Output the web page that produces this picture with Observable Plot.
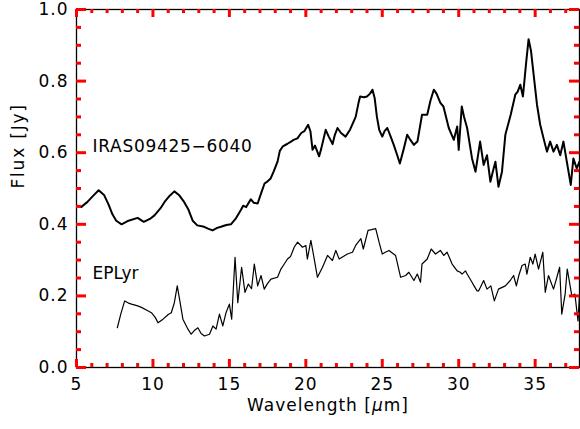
<!DOCTYPE html>
<html><head><meta charset="utf-8">
<script src="https://cdn.jsdelivr.net/npm/d3@7"></script>
<script src="https://cdn.jsdelivr.net/npm/@observablehq/plot@0.6"></script>
<style>body{margin:0;background:#fff}</style>
</head><body><div id="chart"></div>
<script>
// IRAS09425-6040 spectrum (wavelength in micron, flux in Jy)
const irasWl = [5.05,5.3,5.7,6.1,6.45,6.8,7.1,7.35,7.6,7.95,8.4,9.0,9.4,9.8,10.1,10.5,10.8,11.1,11.4,11.7,12.0,12.3,12.6,12.9,13.35,13.6,13.9,14.2,14.45,14.8,15.1,15.4,15.75,15.9,16.1,16.4,16.6,16.85,17.1,17.3,17.5,17.7,17.9,18.15,18.3,18.5,18.8,19.0,19.2,19.45,19.7,19.9,20.15,20.3,20.44,20.6,20.87,21.0,21.3,21.5,21.75,21.9,22.07,22.3,22.6,22.9,23.26,23.45,23.55,23.8,24.0,24.2,24.36,24.5,24.65,24.8,25.0,25.15,25.33,25.55,25.75,26.0,26.15,26.4,26.63,26.85,27.07,27.3,27.6,27.94,28.15,28.37,28.55,28.8,29.0,29.35,29.68,29.9,30.0,30.2,30.35,30.55,30.87,31.1,31.4,31.63,31.85,32.07,32.25,32.4,32.6,32.83,33.05,33.4,33.7,33.85,34.03,34.2,34.42,34.57,34.73,34.9,35.12,35.33,35.55,35.77,35.98,36.2,36.42,36.64,36.85,37.07,37.33,37.5,37.72,37.9];
const irasFlux = [0.452,0.448,0.462,0.48,0.495,0.482,0.455,0.428,0.41,0.40,0.41,0.418,0.407,0.415,0.425,0.445,0.465,0.48,0.492,0.482,0.465,0.443,0.41,0.397,0.393,0.388,0.383,0.39,0.393,0.398,0.40,0.415,0.44,0.452,0.448,0.47,0.46,0.458,0.49,0.514,0.52,0.528,0.548,0.575,0.605,0.618,0.625,0.63,0.636,0.64,0.655,0.66,0.678,0.66,0.608,0.62,0.59,0.61,0.664,0.645,0.624,0.65,0.669,0.655,0.645,0.665,0.70,0.74,0.757,0.755,0.757,0.765,0.776,0.753,0.70,0.664,0.645,0.66,0.669,0.645,0.622,0.59,0.57,0.61,0.65,0.635,0.622,0.631,0.706,0.706,0.745,0.776,0.765,0.739,0.729,0.669,0.636,0.673,0.608,0.729,0.70,0.669,0.584,0.547,0.631,0.566,0.593,0.519,0.55,0.575,0.505,0.547,0.65,0.706,0.762,0.77,0.79,0.757,0.856,0.917,0.884,0.818,0.734,0.678,0.64,0.603,0.631,0.603,0.622,0.593,0.631,0.575,0.51,0.584,0.556,0.575];

// EP Lyr spectrum
const eplyrWl = [7.67,7.9,8.15,8.4,8.6,9.0,9.25,9.6,9.9,10.15,10.33,10.66,11.0,11.2,11.4,11.59,11.74,11.96,12.29,12.5,12.75,12.94,13.15,13.37,13.7,13.92,14.13,14.35,14.57,14.78,15.0,15.15,15.37,15.55,15.8,16.02,16.24,16.45,16.63,16.85,17.07,17.28,17.5,17.72,18.15,18.37,18.59,18.8,19.0,19.24,19.46,19.78,20.0,20.1,20.33,20.55,20.76,21.09,21.42,21.74,21.96,22.18,22.45,22.72,23.05,23.26,23.6,23.76,24.07,24.3,24.57,24.79,25.0,25.2,25.44,25.87,26.2,26.53,26.74,27.07,27.29,27.5,27.6,27.94,28.2,28.48,28.8,29.02,29.24,29.57,29.9,30.1,30.22,30.44,30.55,30.87,31.0,31.2,31.3,31.42,31.63,31.85,32.1,32.33,32.6,33.05,33.37,33.59,33.77,33.93,34.14,34.35,34.46,34.68,34.85,35.0,35.22,35.5,35.66,35.87,36.2,36.42,36.6,36.74,36.96,37.1,37.4,37.6,37.8,37.9];
const eplyrFlux = [0.111,0.15,0.186,0.18,0.177,0.172,0.168,0.16,0.153,0.14,0.125,0.135,0.148,0.153,0.181,0.228,0.191,0.135,0.107,0.093,0.105,0.111,0.095,0.088,0.093,0.116,0.107,0.149,0.116,0.153,0.177,0.135,0.308,0.181,0.28,0.21,0.233,0.22,0.289,0.228,0.257,0.219,0.235,0.247,0.252,0.275,0.289,0.303,0.31,0.336,0.35,0.336,0.341,0.303,0.355,0.303,0.252,0.28,0.313,0.299,0.327,0.303,0.31,0.317,0.322,0.341,0.36,0.331,0.383,0.385,0.388,0.35,0.317,0.322,0.327,0.313,0.252,0.257,0.266,0.243,0.261,0.238,0.289,0.303,0.331,0.317,0.327,0.313,0.322,0.289,0.27,0.266,0.261,0.27,0.261,0.238,0.228,0.214,0.214,0.224,0.243,0.219,0.228,0.186,0.219,0.228,0.243,0.257,0.228,0.257,0.285,0.289,0.261,0.308,0.289,0.317,0.275,0.322,0.21,0.257,0.219,0.252,0.28,0.149,0.205,0.275,0.2,0.205,0.13,0.2];

// Curve labels
const labelText = ["IRAS09425\u22126040", "EPLyr"];
const labelX = [6.05, 6.05];
const labelY = [0.616, 0.263];

// Axis ticks
const xMajor = [5, 10, 15, 20, 25, 30, 35];
const xMinor = [6,7,8,9,11,12,13,14,16,17,18,19,21,22,23,24,26,27,28,29,31,32,33,34,36,37];
const yMajor = [0, 0.2, 0.4, 0.6, 0.8, 1.0];
const yMinor = [0.05,0.1,0.15,0.25,0.3,0.35,0.45,0.5,0.55,0.65,0.7,0.75,0.85,0.9,0.95];
const xTitle = "Wavelength [\u03bcm]";
const yTitle = "Flux [Jy]";

const iras = irasWl.map((w, i) => ({wl: w, flux: irasFlux[i]}));
const eplyr = eplyrWl.map((w, i) => ({wl: w, flux: eplyrFlux[i]}));
const labels = labelText.map((t, i) => ({t, x: labelX[i], y: labelY[i]}));

const W = 580, H = 429, ML = 76, MR = 1, MT = 9, MB = 62;
const PW = W - ML - MR, PH = H - MT - MB;
const tk = {stroke: "red", strokeWidth: 3};
const chart = Plot.plot({
  width: W, height: H,
  marginLeft: ML, marginRight: MR, marginTop: MT, marginBottom: MB,
  style: {fontFamily: "DejaVu Sans", fontSize: "17px", color: "#000", background: "#fff"},
  x: {domain: [5, 37.9], axis: null},
  y: {domain: [0, 1], axis: null},
  marks: [
    Plot.line(iras, {x: "wl", y: "flux", stroke: "#000", strokeWidth: 2, strokeLinejoin: "round"}),
    Plot.line(eplyr, {x: "wl", y: "flux", stroke: "#000", strokeWidth: 1.2, strokeLinejoin: "round"}),
    Plot.text(labels, {x: "x", y: "y", text: "t", textAnchor: "start", fontSize: 17, fill: "#000"}),
    Plot.frame({stroke: "#000", strokeWidth: 1.3}),
    Plot.ruleX(xMajor, {...tk, x: d => d, insetTop: PH - 8}),
    Plot.ruleX(xMinor, {...tk, x: d => d, insetTop: PH - 4}),
    Plot.ruleX(xMajor, {...tk, x: d => d, insetBottom: PH - 8}),
    Plot.ruleX(xMinor, {...tk, x: d => d, insetBottom: PH - 4}),
    Plot.ruleY(yMajor, {...tk, y: d => d, insetRight: PW - 10}),
    Plot.ruleY(yMinor, {...tk, y: d => d, insetRight: PW - 5}),
    Plot.ruleY(yMajor, {...tk, y: d => d, insetLeft: PW - 10}),
    Plot.ruleY(yMinor, {...tk, y: d => d, insetLeft: PW - 5}),
    Plot.axisX(xMajor, {anchor: "bottom", tickSize: 0, tickPadding: 10, label: null, tickFormat: d3.format("d"), fontSize: 17, fill: "#000"}),
    Plot.axisY(yMajor, {anchor: "left", tickSize: 0, tickPadding: 8, label: null, tickFormat: d3.format(".1f"), fontSize: 17, fill: "#000"}),
    Plot.text([xTitle], {frameAnchor: "bottom", dy: 43, fontSize: 17, fill: "#000"}),
    Plot.text([yTitle], {frameAnchor: "left", dx: -58, rotate: -90, fontSize: 17, fill: "#000"})
  ]
});
document.getElementById("chart").append(chart);
chart.querySelectorAll('[aria-label$="tick label"] text').forEach(t => t.setAttribute("letter-spacing", "1"));
chart.querySelectorAll("text").forEach(t => {
  if (t.textContent === xTitle) {
    t.textContent = "";
    t.setAttribute("letter-spacing", "1");
    const ns = "http://www.w3.org/2000/svg";
    const a = document.createElementNS(ns, "tspan"); a.textContent = "Wavelength [";
    const b = document.createElementNS(ns, "tspan"); b.textContent = "\u03bc"; b.setAttribute("font-style", "italic");
    const c = document.createElementNS(ns, "tspan"); c.textContent = "m]";
    t.append(a, b, c);
  } else if (t.textContent === yTitle) {
    t.setAttribute("letter-spacing", "1.8");
  } else if (t.textContent === labelText[0]) {
    t.setAttribute("letter-spacing", "0.7");
  }
});
</script></body></html>
